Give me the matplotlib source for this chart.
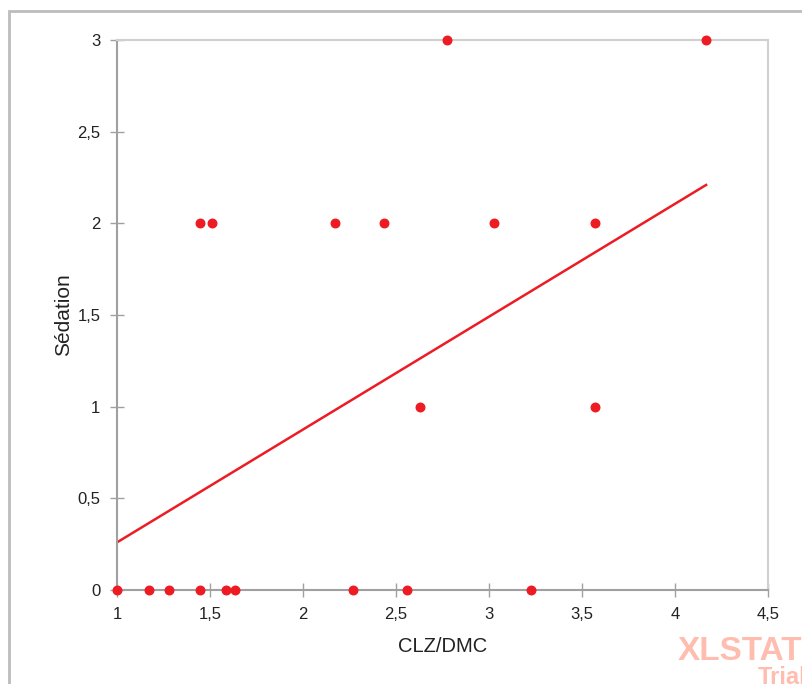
import numpy as np
import matplotlib.pyplot as plt
from matplotlib.patches import Rectangle

# CLZ/DMC vs Sédation
clz_dmc = [2.774, 4.167,
           1.446, 1.511, 2.172, 2.435, 3.027, 3.570,
           2.629, 3.570,
           1.0, 1.174, 1.280, 1.446, 1.584, 1.635, 2.267, 2.561, 3.226]
sedation = [3, 3,
            2, 2, 2, 2, 2, 2,
            1, 1,
            0, 0, 0, 0, 0, 0, 0, 0, 0]

x_ticks = [1, 1.5, 2, 2.5, 3, 3.5, 4, 4.5]
y_ticks = [0, 0.5, 1, 1.5, 2, 2.5, 3]

red = '#ed1c24'
dark = '#a0a0a0'
light = '#d0d0d0'

fig = plt.figure(figsize=(8.02, 6.84), dpi=100)
W, H = 802, 684

# outer frame
fig.patches.append(Rectangle((9 / W, -0.1), 1.2, 1 - 11 / H + 0.1,
                             transform=fig.transFigure, fill=False,
                             edgecolor='#bcbcbc', linewidth=2))

ax = fig.add_axes([117 / W, 94 / H, 651 / W, 550 / H])
ax.set_xlim(1, 4.5)
ax.set_ylim(0, 3)

# regression line
slope, intercept = np.polyfit(clz_dmc, sedation, 1)
xs = np.array([min(clz_dmc), max(clz_dmc)])
ax.plot(xs, intercept + slope * xs, color=red, linewidth=1.8, zorder=2)

ax.scatter(clz_dmc, sedation, s=38, color=red, zorder=3, clip_on=False)

ax.spines['left'].set_color(dark)
ax.spines['bottom'].set_color(dark)
ax.spines['top'].set_color(light)
ax.spines['right'].set_color(light)
for s in ax.spines.values():
    s.set_linewidth(1.5)

ax.set_xticks(x_ticks)
ax.set_yticks(y_ticks)
ax.set_xticklabels([str(t).replace('.', ',') for t in x_ticks])
ax.set_yticklabels([str(t).replace('.', ',') if t % 1 else str(int(t)) for t in y_ticks])
ax.tick_params(axis='both', direction='inout', length=10, width=1,
               color=dark, labelsize=12, labelcolor='#222222')
ax.tick_params(axis='x', pad=7)
ax.tick_params(axis='y', pad=7)
for lab in ax.get_xticklabels() + ax.get_yticklabels():
    lab.set_family('Liberation Sans')

ax.set_xlabel('CLZ/DMC', fontsize=14.5, family='Liberation Sans', labelpad=11, color='#222222')
ax.set_ylabel('Sédation', fontsize=15, family='Liberation Sans', labelpad=3, color='#222222')

# watermark
fig.text(678 / W, 1 - 651 / H, 'XLSTAT', fontsize=24, fontweight='bold',
         color='#ffbdb0', family='Liberation Sans', va='center')
fig.text(758 / W, 1 - 678 / H, 'Trial', fontsize=17, fontweight='bold',
         color='#ffbdb0', family='Liberation Sans', va='center')

fig.savefig('out.png', dpi=100)
